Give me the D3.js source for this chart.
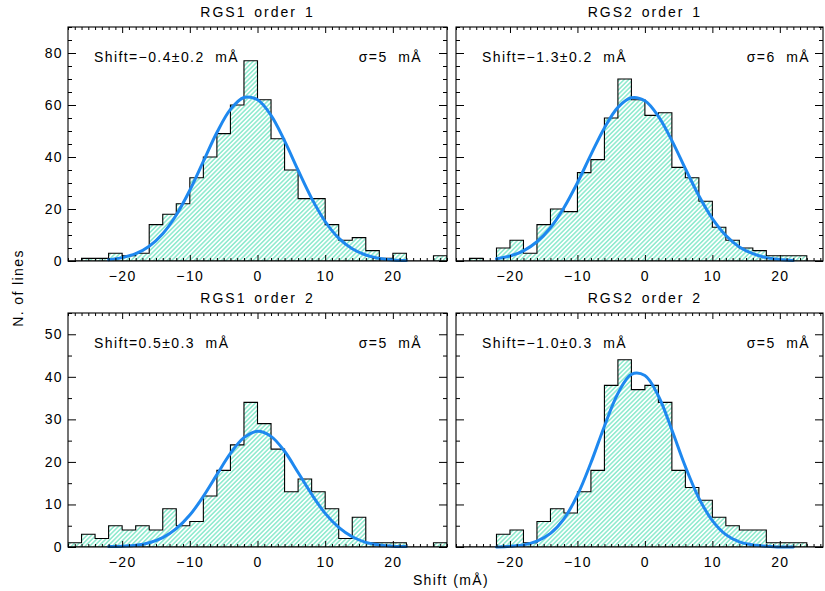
<!DOCTYPE html>
<html>
<head>
<meta charset="utf-8">
<script src="https://cdn.jsdelivr.net/npm/d3@7"></script>
<style>
    body { margin: 0; background: #fff; }
    svg text {
        font-family: 'Liberation Sans', Arial, sans-serif;
        font-size: 14px;
        letter-spacing: 1.4px;
        fill: #000;
        white-space: pre;
    }
    svg text.panel-title { letter-spacing: 2px; word-spacing: 2px; }
</style>
</head>
<body>
<div id="chart-container"></div>
<script>
// Histogram bins: left edge of each 2 mÅ wide bin
const binStarts = [-28, -26, -24, -22, -20, -18, -16, -14, -12, -10, -8, -6, -4, -2,
                   0, 2, 4, 6, 8, 10, 12, 14, 16, 18, 20, 22, 24, 26]
const binWidth = 2

// Counts per bin
const countsRgs1Order1 = [0, 1, 1, 3, 2, 3, 14, 18, 22, 32, 40, 49, 60, 77, 62, 47, 35, 24, 24, 14, 8, 9, 4, 1, 3, 0, 0, 2]
const countsRgs2Order1 = [0, 1, 0, 5, 8, 3, 14, 20, 19, 34, 39, 55, 70, 62, 56, 57, 36, 32, 23, 13, 8, 5, 4, 2, 2, 2, 0, 0]
const countsRgs1Order2 = [1, 3, 2, 5, 4, 5, 4, 9, 5, 6, 12, 18, 24, 34, 29, 23, 13, 16, 13, 9, 2, 7, 1, 1, 1, 0, 0, 1]
const countsRgs2Order2 = [0, 0, 0, 3, 4, 1, 6, 9, 8, 13, 18, 38, 44, 37, 38, 34, 18, 14, 11, 7, 5, 4, 4, 1, 1, 1, 0, 0]

// Gaussian fit curves, sampled from the figure
const fitShift = [-22, -20, -18, -16, -14, -12, -10, -8, -6, -4, -2, 0, 2, 4, 6, 8, 10, 12, 14, 16, 18, 20, 22]
const fitRgs1Order1 = [0.5, 1.3, 2.8, 5.7, 10.5, 17.7, 27.2, 38.3, 49.4, 58.3, 62.9, 62.0, 56.0, 46.2, 34.9, 24.1, 15.2, 8.8, 4.7, 2.3, 1.0, 0.4, 0.2]
const fitRgs2Order1 = [0.9, 1.9, 3.9, 7.4, 12.8, 20.5, 30.1, 40.9, 51.2, 59.1, 62.8, 61.6, 55.6, 46.3, 35.5, 25.1, 16.3, 9.8, 5.4, 2.8, 1.3, 0.6, 0.2]
const fitRgs1Order2 = [0.1, 0.2, 0.4, 1.0, 2.2, 4.3, 7.5, 11.9, 17.0, 22.0, 25.7, 27.2, 26.0, 22.5, 17.5, 12.4, 7.9, 4.6, 2.4, 1.1, 0.5, 0.2, 0.1]
const fitRgs2Order2 = [0.0, 0.2, 0.5, 1.4, 3.2, 6.6, 12.2, 19.8, 28.4, 36.1, 40.6, 40.3, 35.5, 27.5, 18.9, 11.5, 6.2, 2.9, 1.2, 0.5, 0.2, 0.0, 0.0]

// Texts and ticks
const panelTitles = ['RGS1 order 1', 'RGS2 order 1', 'RGS1 order 2', 'RGS2 order 2']
const shiftLabels = ['Shift=−0.4±0.2  mÅ', 'Shift=−1.3±0.2  mÅ', 'Shift=0.5±0.3  mÅ', 'Shift=−1.0±0.3  mÅ']
const sigmaLabels = ['σ=5  mÅ', 'σ=6  mÅ', 'σ=5  mÅ', 'σ=5  mÅ']
const xTickValues = [-20, -10, 0, 10, 20]
const yTickValuesTop = [0, 20, 40, 60, 80]
const yTickValuesBottom = [0, 10, 20, 30, 40, 50]
const xAxisTitle = 'Shift (mÅ)'
const yAxisTitle = 'N. of lines'

class HistogramPanel {
    constructor(svg, data, options) {
        this.svg = svg
        this.data = data
        this.o = options

        this.fitColor = '#1e88ef'

        this.xScale = d3.scaleLinear().domain(options.xDomain).range([options.left, options.right])
        this.yScale = d3.scaleLinear().domain(options.yDomain).range([options.bottom, options.top])
        this.g = svg.append('g')
    }

    plot() {
        this.#createClip()
        this.#plotHistogram()
        this.#plotFit()
        this.#createAxes()
        this.#createTexts()
    }

    #createClip() {
        this.clipId = 'clip-' + this.o.id
        this.svg.select('defs').append('clipPath')
            .attr('id', this.clipId)
            .append('rect')
            .attr('x', this.o.left)
            .attr('y', this.o.top)
            .attr('width', this.o.right - this.o.left)
            .attr('height', this.o.bottom - this.o.top)
    }

    #plotHistogram() {
        const counts = this.data.counts
        const pts = [[binStarts[0], 0]]
        binStarts.forEach((x0, i) => {
            pts.push([x0, counts[i]], [x0 + binWidth, counts[i]])
        })
        pts.push([binStarts[binStarts.length - 1] + binWidth, 0])

        const line = d3.line()
            .x(d => this.xScale(d[0]))
            .y(d => this.yScale(d[1]))

        this.g.append('path')
            .attr('clip-path', `url(#${this.clipId})`)
            .attr('d', line(pts) + 'Z')
            .attr('fill', 'url(#hatch)')
            .attr('stroke', 'black')
            .attr('stroke-width', 1.1)
    }

    #plotFit() {
        const line = d3.line()
            .x((d, i) => this.xScale(fitShift[i]))
            .y(d => this.yScale(d))
            .curve(d3.curveCatmullRom)
        this.g.append('path')
            .attr('d', line(this.data.fit))
            .attr('fill', 'none')
            .attr('stroke', this.fitColor)
            .attr('stroke-width', 3)
            .attr('stroke-linecap', 'round')
    }

    #createAxes() {
        const { left, right, top, bottom } = this.o
        const [x0, x1] = this.xScale.domain()
        const [y0, y1] = this.yScale.domain()
        const xMinor = d3.range(Math.ceil(x0), x1 + 0.01, 1).filter(v => !xTickValues.includes(v))
        const yMinor = d3.range(y0, y1 + 0.01, 5).filter(v => !this.o.yTicks.includes(v))

        const addAxis = (axis, tx, ty, cls) => {
            const a = this.g.append('g')
                .attr('class', cls)
                .attr('transform', `translate(${tx},${ty})`)
                .call(axis)
            a.select('.domain').remove()
            return a
        }

        // bottom
        addAxis(d3.axisBottom(this.xScale).tickValues(xTickValues).tickSize(-6).tickPadding(10)
            .tickFormat(d3.format('d')), 0, bottom, 'x-axis')
        addAxis(d3.axisBottom(this.xScale).tickValues(xMinor).tickSize(-3).tickFormat(''), 0, bottom, 'x-minor')
        // top
        addAxis(d3.axisTop(this.xScale).tickValues(xTickValues).tickSize(-6).tickFormat(''), 0, top, 'x-top')
        addAxis(d3.axisTop(this.xScale).tickValues(xMinor).tickSize(-3).tickFormat(''), 0, top, 'x-top-minor')
        // left
        addAxis(d3.axisLeft(this.yScale).tickValues(this.o.yTicks).tickSize(-8).tickPadding(5)
            .tickFormat(this.o.yLabels ? d3.format('d') : ''), left, 0, 'y-axis')
        addAxis(d3.axisLeft(this.yScale).tickValues(yMinor).tickSize(-4).tickFormat(''), left, 0, 'y-minor')
        // right
        addAxis(d3.axisRight(this.yScale).tickValues(this.o.yTicks).tickSize(-8).tickFormat(''), right, 0, 'y-right')
        addAxis(d3.axisRight(this.yScale).tickValues(yMinor).tickSize(-4).tickFormat(''), right, 0, 'y-right-minor')

        this.g.selectAll('.tick line').attr('stroke', 'black')

        this.g.append('rect')
            .attr('x', left)
            .attr('y', top)
            .attr('width', right - left)
            .attr('height', bottom - top)
            .attr('fill', 'none')
            .attr('stroke', 'black')
            .attr('stroke-width', 1.1)
    }

    #createTexts() {
        const { left, top } = this.o
        this.g.append('text')
            .attr('class', 'panel-title')
            .attr('x', this.xScale(0))
            .attr('y', top - 10)
            .attr('text-anchor', 'middle')
            .text(this.data.title)
        this.g.append('text')
            .attr('x', left + 26)
            .attr('y', top + 35)
            .text(this.data.shift)
        this.g.append('text')
            .attr('x', left + 354)
            .attr('y', top + 35)
            .attr('text-anchor', 'end')
            .text(this.data.sigma)
    }
}

const width = 825
const height = 591

const svg = d3.select('#chart-container')
    .append('svg')
    .attr('width', width)
    .attr('height', height)

const defs = svg.append('defs')
const hatch = defs.append('pattern')
    .attr('id', 'hatch')
    .attr('patternUnits', 'userSpaceOnUse')
    .attr('width', 3.2)
    .attr('height', 3.2)
    .attr('patternTransform', 'rotate(45)')
hatch.append('line')
    .attr('x1', 1.6).attr('y1', 0)
    .attr('x2', 1.6).attr('y2', 3.2)
    .attr('stroke', '#3ddcab')
    .attr('stroke-width', 0.9)

const allCounts = [countsRgs1Order1, countsRgs2Order1, countsRgs1Order2, countsRgs2Order2]
const allFits = [fitRgs1Order1, fitRgs2Order1, fitRgs1Order2, fitRgs2Order2]

const layout = [
    { left: 68, right: 447, top: 27, bottom: 261, xDomain: [-28, 28], yDomain: [0, 90], yTicks: yTickValuesTop, yLabels: true },
    { left: 456, right: 823, top: 27, bottom: 261, xDomain: [-28, 26.4], yDomain: [0, 90], yTicks: yTickValuesTop, yLabels: false },
    { left: 68, right: 447, top: 313, bottom: 547, xDomain: [-28, 28], yDomain: [0, 55], yTicks: yTickValuesBottom, yLabels: true },
    { left: 456, right: 823, top: 313, bottom: 547, xDomain: [-28, 26.4], yDomain: [0, 55], yTicks: yTickValuesBottom, yLabels: false }
]

layout.forEach((opt, i) => {
    const panel = new HistogramPanel(svg, {
        counts: allCounts[i],
        fit: allFits[i],
        title: panelTitles[i],
        shift: shiftLabels[i],
        sigma: sigmaLabels[i]
    }, Object.assign({ id: i }, opt))
    panel.plot()
})

svg.append('text')
    .attr('x', 451)
    .attr('y', 585)
    .attr('text-anchor', 'middle')
    .text(xAxisTitle)

svg.append('text')
    .attr('transform', 'translate(23,288) rotate(-90)')
    .attr('text-anchor', 'middle')
    .text(yAxisTitle)
</script>
</body>
</html>
